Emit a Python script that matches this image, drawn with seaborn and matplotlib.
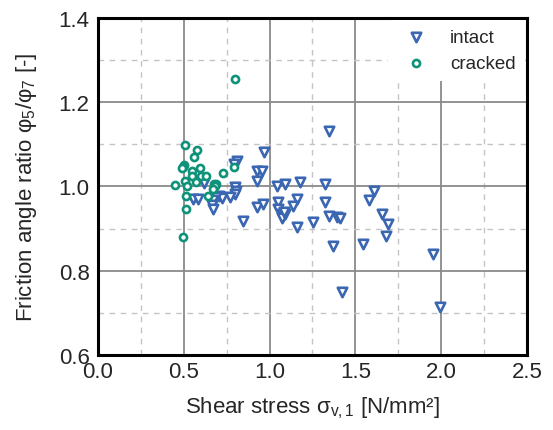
import numpy as np
import pandas as pd
import matplotlib
matplotlib.use("Agg")
import matplotlib.pyplot as plt
import seaborn as sns
from matplotlib.ticker import MultipleLocator

intact_x = [1.346, 0.966, 0.925, 0.956, 0.925, 1.041, 1.088, 1.175, 1.321, 1.608,
            1.581, 0.925, 0.960, 1.049, 1.049, 1.070, 1.080, 1.090, 1.075, 1.085,
            1.161, 1.138, 1.321, 1.344, 1.395, 1.410, 1.255, 1.158, 1.653, 1.692,
            1.676, 1.546, 1.370, 1.950, 1.420, 1.993,
            0.808, 0.793, 0.620, 0.798, 0.804, 0.798, 0.556, 0.581, 0.707, 0.721,
            0.691, 0.668, 0.769, 0.662, 0.668, 0.843]
intact_y = [1.131, 1.081, 1.037, 1.036, 1.013, 1.002, 1.006, 1.010, 1.006, 0.989,
            0.969, 0.952, 0.958, 0.964, 0.947, 0.935, 0.930, 0.935, 0.925, 0.940,
            0.970, 0.953, 0.964, 0.931, 0.927, 0.925, 0.915, 0.903, 0.935, 0.911,
            0.883, 0.863, 0.858, 0.840, 0.749, 0.715,
            1.060, 1.053, 1.008, 0.999, 0.990, 0.982, 0.970, 0.970, 0.978, 0.973,
            0.974, 0.968, 0.974, 0.955, 0.947, 0.917]

cracked_x = [0.507, 0.579, 0.561, 0.501, 0.494, 0.488, 0.546, 0.593, 0.548, 0.602,
             0.631, 0.727, 0.794, 0.507, 0.569, 0.447, 0.517, 0.678, 0.688, 0.683,
             0.672, 0.513, 0.639, 0.513, 0.497, 0.800]
cracked_y = [1.099, 1.087, 1.069, 1.051, 1.047, 1.043, 1.037, 1.045, 1.024, 1.024,
             1.026, 1.032, 1.046, 1.014, 1.010, 1.004, 1.002, 1.006, 1.006, 1.001,
             0.994, 0.977, 0.977, 0.947, 0.880, 1.254]

groups = ["intact", "cracked"]
colors = {"intact": "#3a66b2", "cracked": "#0e9279"}

df = pd.DataFrame({
    "x": intact_x + cracked_x,
    "y": intact_y + cracked_y,
    "g": ["intact"] * len(intact_x) + ["cracked"] * len(cracked_x),
})

sns.set_theme(style="white")
plt.rcParams['font.family'] = ['Liberation Sans', 'DejaVu Sans']
plt.rcParams['mathtext.fontset'] = 'custom'
plt.rcParams['mathtext.rm'] = 'Liberation Sans'
plt.rcParams['mathtext.it'] = 'Liberation Sans'

fig = plt.figure(figsize=(5.53, 4.31), dpi=100)
ax = fig.add_axes([0.177, 0.174, 0.776, 0.782])

for g in groups:
    sub = df[df.g == g]
    sns.scatterplot(data=sub, x="x", y="y", ax=ax,
                    marker="v" if g == "intact" else "o",
                    s=46 if g == "intact" else 26,
                    facecolor="white", edgecolor=colors[g], linewidth=1.9,
                    label=g, zorder=3)

ax.set_xlim(0, 2.5)
ax.set_ylim(0.6, 1.4)
ax.xaxis.set_major_locator(MultipleLocator(0.5))
ax.xaxis.set_minor_locator(MultipleLocator(0.25))
ax.yaxis.set_major_locator(MultipleLocator(0.2))
ax.yaxis.set_minor_locator(MultipleLocator(0.1))
ax.grid(True, which="major", color="#8a8a8a", linewidth=1.3, linestyle="-")
ax.grid(True, which="minor", color="#c4c4c4", linewidth=1.0, linestyle=(0, (4, 4)))
ax.set_axisbelow(True)
ax.tick_params(which="both", length=0, labelsize=16, colors="#262626")
ax.tick_params(axis="y", pad=6)
ax.tick_params(axis="x", pad=4)
for sp in ax.spines.values():
    sp.set_color("black")
    sp.set_linewidth(2.2)

ax.set_xlabel("Shear stress σ$_{\\mathrm{v,1}}$ [N/mm²]", fontsize=16, color="#262626", labelpad=9)
ax.set_ylabel("Friction angle ratio φ$_5$/φ$_7$ [-]", fontsize=16, color="#262626", labelpad=14)

leg = ax.legend(loc="upper right", frameon=True, fontsize=13.5, framealpha=1,
                edgecolor="white", borderaxespad=0.1, handletextpad=0.8,
                labelspacing=0.45, borderpad=0.5)
leg.get_frame().set_linewidth(0)

fig.savefig("out.png", dpi=100)
